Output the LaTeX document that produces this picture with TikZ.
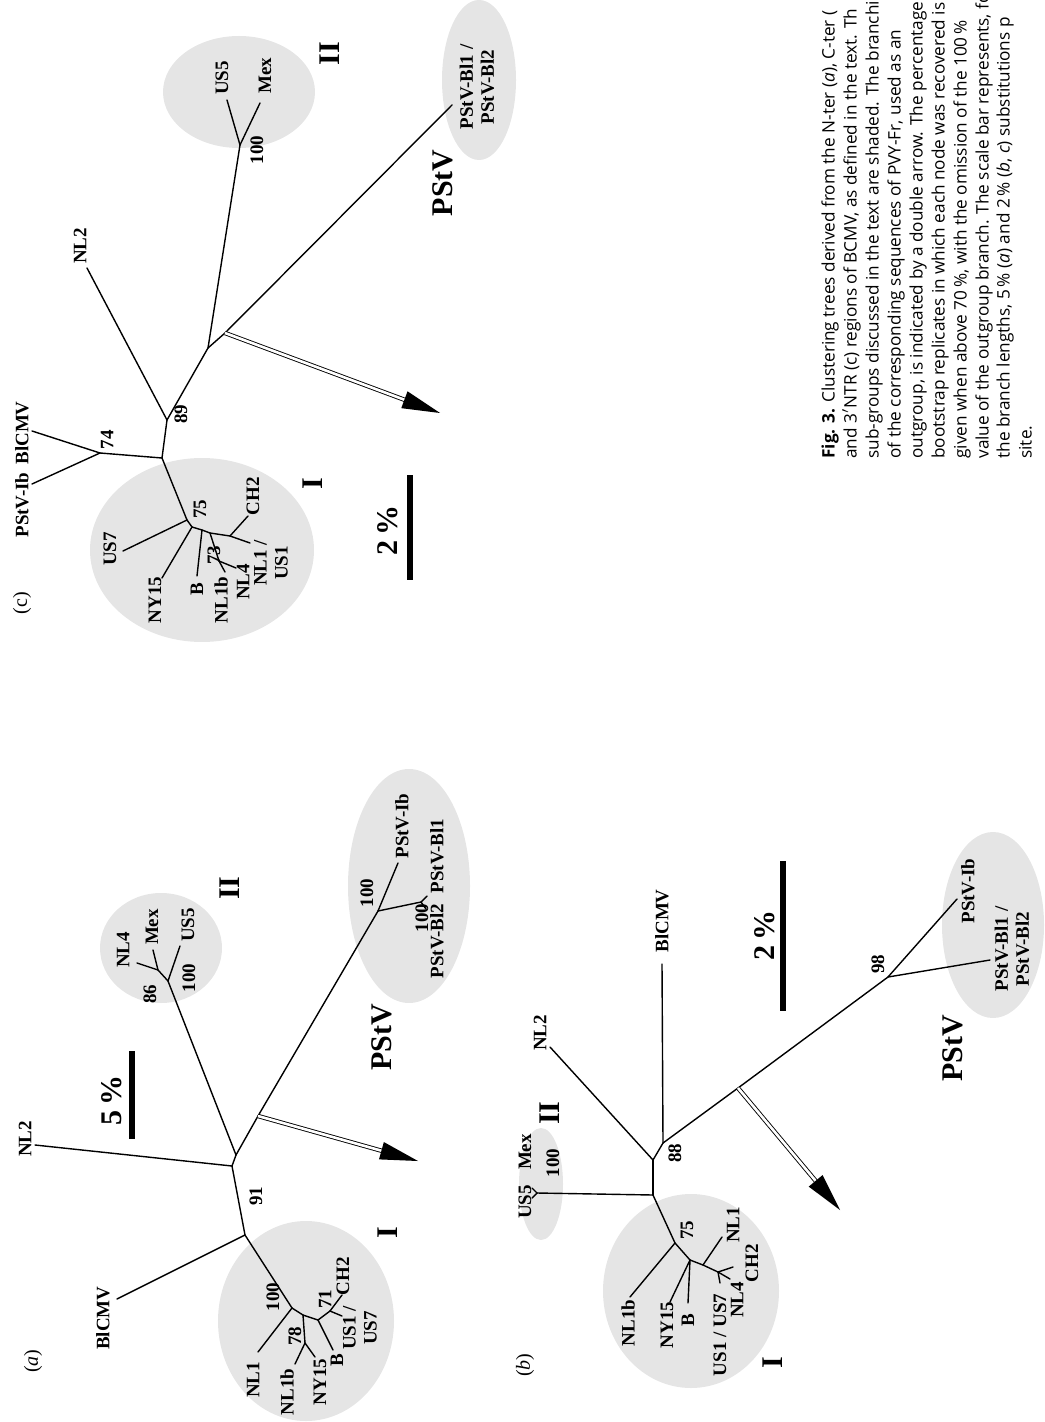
\documentclass[tikz,border=0pt]{standalone}
\usepackage{fontspec}
\setmainfont{Liberation Serif}
\newfontfamily\capfont{Open Sans}
\usetikzlibrary{calc}

\tikzset{
  branch/.style={line width=0.7pt, line cap=round},
  grp/.style={fill=black!10, draw=none},
  lab/.style={rotate=90, inner sep=0.5pt, font=\bfseries\fontsize{9.5}{10.5}\selectfont},
  biglab/.style={rotate=90, inner sep=0.5pt, font=\bfseries\fontsize{15}{16}\selectfont},
  panel/.style={rotate=90, inner sep=0.5pt, font=\fontsize{10}{11}\selectfont},
  sbar/.style={line width=3pt},
  dblshaft/.style={double, double distance=1.3pt, line width=0.45pt},
  captext/.style={rotate=90, anchor=mid west, inner sep=0pt, font=\capfont\fontsize{8.6}{10}\selectfont},
}

% double-lined outgroup arrow: shaft from #1 towards #2, filled head at #2
\newcommand{\outarrow}[3]{%
  \coordinate (#3-base) at ($(#2)!19pt!(#1)$);
  \draw[dblshaft] (#1) -- ($(#2)!16pt!(#1)$);
  \fill (#2) -- ($(#3-base)!4.5pt!90:(#2)$) -- ($(#3-base)!4.5pt!-90:(#2)$) -- cycle;
}

\begin{document}
\begin{tikzpicture}[x=0.5pt, y=-0.5pt]
\useasboundingbox (0,0) rectangle (1044,1422);
\begin{scope}
\clip (0,0) rectangle (1044,1422);

% ================= (c) 3'NTR tree =================
\fill[grp] (202,550) ellipse [x radius=56pt, y radius=46pt];
\fill[grp] (239,92) ellipse [x radius=38pt, y radius=28pt];
\fill[grp] (479,80) ellipse [x radius=18.5pt, y radius=40pt];

\coordinate (c74) at (100,453);
\coordinate (cBl) at (32,431);
\coordinate (cIb) at (32,484);
\coordinate (cJ) at (162,458);
\coordinate (c89) at (167,420);
\coordinate (cNL2) at (87,268);
\coordinate (cK) at (208,348);
\coordinate (cL) at (225,333);
\coordinate (c100) at (240,145);
\coordinate (cUS5) at (227,100);
\coordinate (cMex) at (260,103);
\coordinate (cPS) at (452,105);
\coordinate (cTip) at (440,413);
\coordinate (c75) at (187,520);
\coordinate (cUS7) at (123,551);
\coordinate (cN2) at (192,527);
\coordinate (cNY15) at (162,578);
\coordinate (cN3) at (202,530);
\coordinate (cB) at (197,576);
\coordinate (cN4) at (210,533);
\coordinate (c73) at (219,561);
\coordinate (cNL1b) at (225,572);
\coordinate (cNL4) at (236,568);
\coordinate (cN5) at (230,536);
\coordinate (cCH2) at (248,516);
\coordinate (cNL1) at (250,543);

\foreach \p/\q in {cJ/c74, c74/cBl, c74/cIb, cJ/c89, c89/cNL2, c89/cK, cK/c100,
  c100/cUS5, c100/cMex, cK/cL, cL/cPS, cJ/c75, c75/cUS7, c75/cN2, cN2/cNY15,
  cN2/cN3, cN3/cB, cN3/cN4, cN4/c73, c73/cNL1b, c73/cNL4, cN4/cN5, cN5/cCH2, cN5/cNL1}
  \draw[branch] (\p) -- (\q);
\outarrow{cL}{cTip}{carr}
\draw[sbar] (410,475) coordinate (cbar1) -- (410,580) coordinate (cbar2);

\node[panel] (cpanel) at (22,603) {(c)};
\node[lab] (cBlT) at (22,433) {BlCMV};
\node[lab] (cIbT) at (22,505) {PStV-Ib};
\node[lab] (c74T) at (107,440) {74};
\node[lab] (c89T) at (181,414) {89};
\node[lab] (cNL2T) at (80,246) {NL2};
\node[lab] (c100T) at (257,150) {100};
\node[lab] (cUS5T) at (222,78) {US5};
\node[lab] (cMexT) at (265,76) {Mex};
\node[biglab] (cIIT) at (330,54) {II};
\node[lab, align=center] (cPST) at (477,87) {PStV-Bl1 /\\PStV-Bl2};
\node[biglab] (cPStV) at (443,183) {PStV};
\node[lab] (c75T) at (200,509) {75};
\node[lab] (cUS7T) at (110,549) {US7};
\node[lab] (cNY15T) at (155,600) {NY15};
\node[lab] (cBT) at (197,589) {B};
\node[lab] (c73T) at (214,555) {73};
\node[lab] (cNL1bT) at (221,600) {NL1b};
\node[lab] (cNL4T) at (243,582) {NL4};
\node[lab] (cCH2T) at (253,496) {CH2};
\node[lab, align=center] (cNL1T) at (271,563) {NL1 /\\US1};
\node[biglab] (cIT) at (313,484) {I};
\node[biglab] (cbarT) at (388,530) {2\,\%};

% ================= (a) N-ter tree =================
\fill[grp] (306,1321) ellipse [x radius=44pt, y radius=50pt];
\fill[grp] (161,948) ellipse [x radius=30.5pt, y radius=27.5pt];
\fill[grp] (409,886) ellipse [x radius=30.5pt, y radius=58.5pt];

\coordinate (aBl) at (117,1299);
\coordinate (a91) at (245,1235);
\coordinate (aR) at (232,1166);
\coordinate (aNL2) at (35,1145);
\coordinate (aA2) at (236,1155);
\coordinate (a100II) at (168,981);
\coordinate (a86) at (158,970);
\coordinate (aNL4) at (137,963);
\coordinate (aMex) at (153,950);
\coordinate (aUS5) at (180,946);
\coordinate (aL) at (258,1116);
\coordinate (a100P) at (378,911);
\coordinate (aIb) at (398,863);
\coordinate (aBlN) at (421,902);
\coordinate (aBl1) at (427,896);
\coordinate (aBl2) at (426,909);
\coordinate (aTip) at (418,1161);
\coordinate (a100I) at (292,1308);
\coordinate (aNL1) at (258,1352);
\coordinate (a78) at (303,1315);
\coordinate (aNn) at (305,1343);
\coordinate (aNL1b) at (295,1364);
\coordinate (aNY15) at (315,1357);
\coordinate (a71) at (318,1320);
\coordinate (aB) at (333,1350);
\coordinate (aCU) at (330,1311);
\coordinate (aCH2) at (342,1295);
\coordinate (aUS) at (342,1316);

\foreach \p/\q in {a91/aBl, a91/aR, aR/aNL2, aR/aA2, aA2/a100II, a100II/aUS5,
  a100II/a86, a86/aNL4, a86/aMex, aA2/aL, aL/a100P, a100P/aIb, a100P/aBlN,
  aBlN/aBl1, aBlN/aBl2, a91/a100I, a100I/aNL1, a100I/a78, a78/aNn, aNn/aNL1b,
  aNn/aNY15, a78/a71, a71/aB, a71/aCU, aCU/aCH2, aCU/aUS}
  \draw[branch] (\p) -- (\q);
\outarrow{aL}{aTip}{aarr}
\draw[sbar] (132,1051) coordinate (abar1) -- (132,1139) coordinate (abar2);

\node[panel] (apanel) at (33,1361) {(\textit{a})};
\node[lab] (aBlT) at (103,1318) {BlCMV};
\node[lab] (a91T) at (256,1196) {91};
\node[lab] (aNL2T) at (25,1139) {NL2};
\node[biglab] (aIIT) at (230,888) {II};
\node[lab] (a86T) at (150,994) {86};
\node[lab] (a100IIT) at (189,978) {100};
\node[lab] (aNL4T) at (123,950) {NL4};
\node[lab] (aMexT) at (152,927) {Mex};
\node[lab] (aUS5T) at (188,925) {US5};
\node[lab] (a100PT) at (367,893) {100};
\node[lab] (aIbT) at (402,826) {PStV-Ib};
\node[lab] (a100BT) at (422,918) {100};
\node[lab] (aBl1T) at (437,856) {PStV-Bl1};
\node[lab] (aBl2T) at (437,941) {PStV-Bl2};
\node[biglab] (aPStV) at (382,1037) {PStV};
\node[biglab] (abarT) at (112,1100) {5\,\%};
\node[lab] (a100IT) at (273,1297) {100};
\node[lab] (aNL1T) at (253,1380) {NL1};
\node[lab] (a78T) at (295,1336) {78};
\node[lab] (aNL1bT) at (287,1392) {NL1b};
\node[lab] (aNY15T) at (320,1382) {NY15};
\node[lab] (a71T) at (325,1299) {71};
\node[lab] (aBT) at (337,1360) {B};
\node[lab] (aCH2T) at (343,1276) {CH2};
\node[lab, align=center] (aUST) at (360,1328) {US1 /\\US7};
\node[biglab] (aIT) at (388,1233) {I};

% ================= (b) C-ter tree =================
\fill[grp] (691,1291) ellipse [x radius=44pt, y radius=48.5pt];
\fill[grp] (541,1184) ellipse [x radius=11pt, y radius=28pt];
\fill[grp] (993,925) ellipse [x radius=25.5pt, y radius=46.5pt];

\coordinate (bR) at (653,1195);
\coordinate (bII) at (537,1193);
\coordinate (bUS5) at (532,1188);
\coordinate (bMex) at (532,1198);
\coordinate (bM) at (653,1160);
\coordinate (bNL2) at (550,1047);
\coordinate (b88) at (663,1143);
\coordinate (bBl) at (662,964);
\coordinate (bL) at (738,1088);
\coordinate (b98) at (888,977);
\coordinate (bIb) at (957,899);
\coordinate (bBlL) at (990,960);
\coordinate (bTip) at (840,1210);
\coordinate (b75) at (675,1243);
\coordinate (bNL1b) at (630,1297);
\coordinate (bNB) at (690,1260);
\coordinate (bNY15) at (670,1302);
\coordinate (bB) at (688,1303);
\coordinate (bC) at (703,1265);
\coordinate (bNL1) at (722,1237);
\coordinate (bE) at (718,1272);
\coordinate (bCH2) at (733,1267);
\coordinate (bNL4) at (730,1279);
\coordinate (bUS) at (720,1283);

\foreach \p/\q in {bR/bII, bII/bUS5, bII/bMex, bR/bM, bM/bNL2, bM/b88, b88/bBl,
  b88/bL, bL/b98, b98/bIb, b98/bBlL, bR/b75, b75/bNL1b, b75/bNB, bNB/bNY15,
  bNB/bB, bNB/bC, bC/bNL1, bC/bE, bE/bCH2, bE/bNL4, bE/bUS}
  \draw[branch] (\p) -- (\q);
\outarrow{bL}{bTip}{barr}
\draw[sbar] (783,861) coordinate (bbar1) -- (783,1011) coordinate (bbar2);

\node[panel] (bpanel) at (525,1365) {(\textit{b})};
\node[lab] (bUS5T) at (525,1202) {US5};
\node[lab] (bMexT) at (525,1152) {Mex};
\node[lab] (b100T) at (553,1163) {100};
\node[biglab] (bIIT) at (550,1113) {II};
\node[lab] (bNL2T) at (540,1033) {NL2};
\node[lab] (b88T) at (675,1153) {88};
\node[lab] (bBlT) at (662,921) {BlCMV};
\node[lab] (b98T) at (878,964) {98};
\node[lab] (bIbT) at (968,891) {PStV-Ib};
\node[lab, align=center] (bBlLT) at (1012,949) {PStV-Bl1 /\\PStV-Bl2};
\node[biglab] (bPStV) at (953,1048) {PStV};
\node[biglab] (bbarT) at (765,935) {2\,\%};
\node[lab] (b75T) at (687,1230) {75};
\node[lab] (bNL1bT) at (628,1323) {NL1b};
\node[lab] (bNY15T) at (667,1325) {NY15};
\node[lab] (bBT) at (688,1320) {B};
\node[lab] (bNL1T) at (733,1225) {NL1};
\node[lab] (bCH2T) at (752,1263) {CH2};
\node[lab] (bNL4T) at (737,1300) {NL4};
\node[lab] (bUST) at (720,1335) {US1 / US7};
\node[biglab] (bIT) at (773,1363) {I};

% ================= caption (lines run to the page edge) =================
\node[captext] (cap1) at (830,459) {\textbf{Fig. 3.} Clustering trees derived from the N-ter (\textit{a}), C-ter (};
\node[captext] (cap2) at (852,459) {and 3$'$NTR (c) regions of BCMV, as defined in the text. Th};
\node[captext] (cap3) at (874,459) {sub-groups discussed in the text are shaded. The branchi};
\node[captext] (cap4) at (896,459) {of the corresponding sequences of PVY-Fr, used as an};
\node[captext] (cap5) at (918,459) {outgroup, is indicated by a double arrow. The percentage};
\node[captext] (cap6) at (940,459) {bootstrap replicates in which each node was recovered is};
\node[captext] (cap7) at (962,459) {given when above 70\,\%, with the omission of the 100\,\%};
\node[captext] (cap8) at (984,459) {value of the outgroup branch. The scale bar represents, fo};
\node[captext] (cap9) at (1005,459) {the branch lengths, 5\,\% (\textit{a}) and 2\,\% (\textit{b}, \textit{c}) substitutions p};
\node[captext] (cap10) at (1027,459) {site.};
\end{scope}
\end{tikzpicture}
\end{document}
